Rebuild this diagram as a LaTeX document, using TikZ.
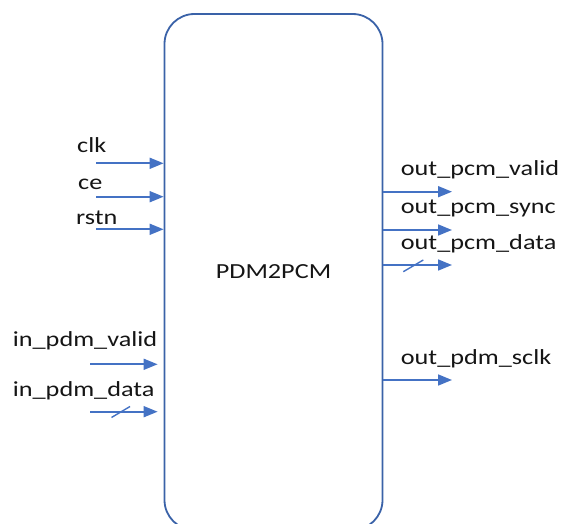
\documentclass[tikz,border=0pt]{standalone}
\usepackage{fontspec}
\setmainfont[FakeStretch=1.22]{Carlito}
\definecolor{arrowblue}{HTML}{4472C4}
\definecolor{boxblue}{HTML}{3A62A8}
\definecolor{txt}{HTML}{151515}
\usetikzlibrary{arrows.meta}
\begin{document}
\begin{tikzpicture}[x=1pt,y=-1pt,
  lbl/.style={anchor=base west,inner sep=0pt,text=txt,font=\fontsize{21.5}{24}\selectfont},
  sig/.style={draw=arrowblue,line width=1.7pt,-{Triangle[length=14pt,width=11pt]}},
  slash/.style={draw=arrowblue,line width=1.4pt}]
\useasboundingbox (0,0) rectangle (563,524);
\clip (0,0) rectangle (563,524);
\node[draw=boxblue,line width=1.8pt,rounded corners=30pt,minimum width=218pt,minimum height=516pt,
  inner sep=0pt,text=txt,font=\fontsize{21.5}{24}\selectfont] (blk) at (273.5,272) {PDM2PCM};
% left labels
\node[lbl] (lclk) at (77,153) {clk};
\node[lbl] (lce) at (78,190) {ce};
\node[lbl] (lrstn) at (76,224.3) {rstn};
\node[lbl] (lvalid) at (12.7,346.7) {in\_pdm\_valid};
\node[lbl] (ldata) at (12.7,396) {in\_pdm\_data};
% right labels
\node[lbl] (rvalid) at (400.7,176) {out\_pcm\_valid};
\node[lbl] (rsync) at (400.7,213.3) {out\_pcm\_sync};
\node[lbl] (rdata) at (400.7,249.3) {out\_pcm\_data};
\node[lbl] (rsclk) at (400.7,364.3) {out\_pdm\_sclk};
% left arrow starts
\coordinate (sclk) at (96,163.3);
\coordinate (sce) at (96,196.7);
\coordinate (srstn) at (96,229.3);
\coordinate (svalid) at (90,364.3);
\coordinate (sdata) at (90,411.7);
\draw[sig] (sclk) -- (sclk -| blk.west);
\draw[sig] (sce) -- (sce -| blk.west);
\draw[sig] (srstn) -- (srstn -| blk.west);
\draw[sig,shorten >=6pt] (svalid) -- (svalid -| blk.west);
\draw[sig,shorten >=6pt] (sdata) -- (sdata -| blk.west);
\coordinate (ds1) at (111.5,417.5);
\coordinate (ds2) at (130,406.5);
\draw[slash] (ds1) -- (ds2);
% right arrows
\coordinate (evalid) at (452,191.7);
\coordinate (esync) at (452,230);
\coordinate (edata) at (452,265);
\coordinate (esclk) at (452,380);
\draw[sig] (evalid -| blk.east) -- (evalid);
\draw[sig] (esync -| blk.east) -- (esync);
\draw[sig] (edata -| blk.east) -- (edata);
\draw[sig] (esclk -| blk.east) -- (esclk);
\coordinate (rs1) at (403.3,271.7);
\coordinate (rs2) at (423.3,260);
\draw[slash] (rs1) -- (rs2);
\end{tikzpicture}
\end{document}
